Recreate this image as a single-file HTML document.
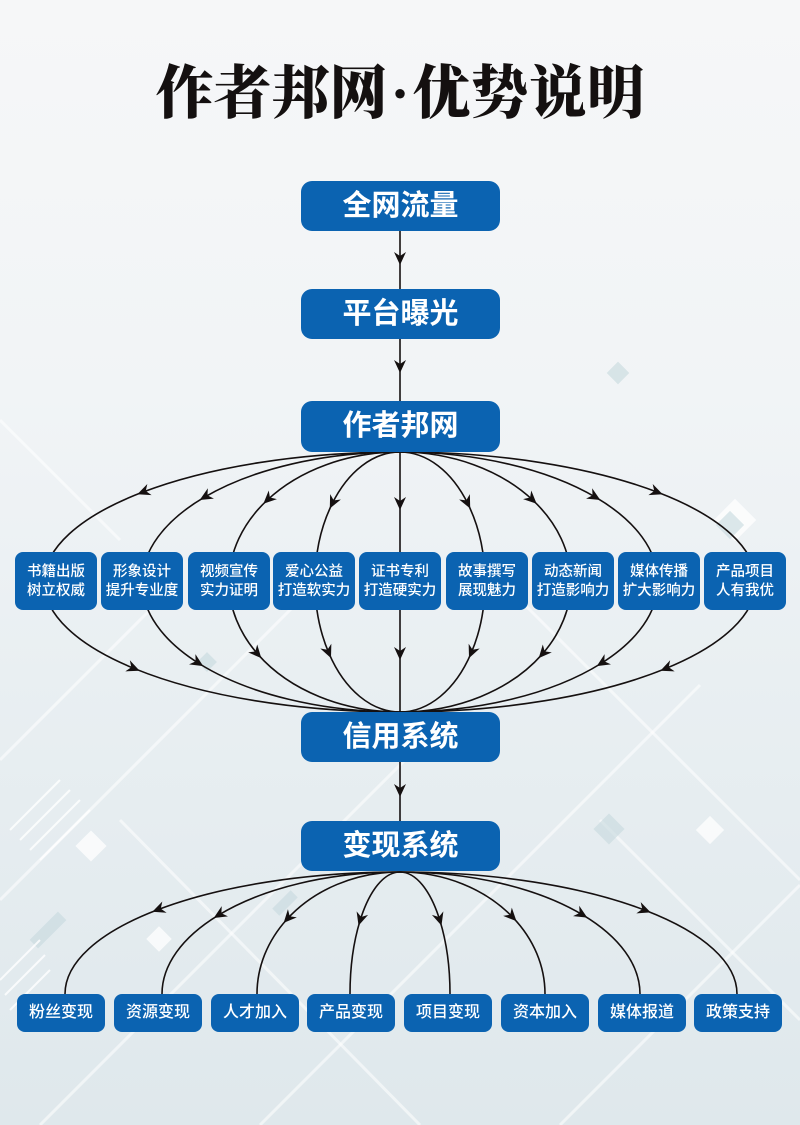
<!DOCTYPE html>
<html>
<head>
<meta charset="utf-8">
<style>
html,body{margin:0;padding:0;}
body{width:800px;height:1125px;position:relative;overflow:hidden;
background:linear-gradient(180deg,#f6f7f8 0%,#f1f4f6 35%,#e9eff2 60%,#dfe8ec 100%);
font-family:"Liberation Sans","Noto Sans CJK SC",sans-serif;}
.bg{position:absolute;left:0;top:0;}
.title{position:absolute;left:0;top:62px;width:800px;text-align:center;
font-family:"Liberation Serif","Noto Serif CJK SC",serif;font-weight:900;font-size:58px;line-height:64px;color:#141010;letter-spacing:0px;}
.title .dot{display:inline-block;width:25px;text-align:center;}
.big{position:absolute;left:301px;width:199px;height:50px;border-radius:11px;background:#0b63b1;
color:#fff;font-family:"Liberation Sans","Noto Sans CJK SC",sans-serif;font-weight:700;font-size:29px;line-height:51px;text-align:center;}
.mid{position:absolute;top:552px;width:82px;height:58px;border-radius:8px;background:#0b63b1;color:#fff;
font-family:"Liberation Sans","Noto Sans CJK SC",sans-serif;font-weight:500;font-size:14.5px;line-height:19px;text-align:center;
box-sizing:border-box;padding-top:11px;white-space:nowrap;}
.bot{position:absolute;top:994px;width:88px;height:38px;border-radius:8px;background:#0b63b1;color:#fff;
font-family:"Liberation Sans","Noto Sans CJK SC",sans-serif;font-weight:500;font-size:16px;line-height:38px;text-align:center;white-space:nowrap;}
svg.lines{position:absolute;left:0;top:0;}
</style>
</head>
<body>
<svg class="bg" width="800" height="1125" viewBox="0 0 800 1125">
  <g fill="none" stroke="#ffffff" stroke-opacity="0.55" stroke-width="3">
    <path d="M0,760 L180,580"/>
    <path d="M0,900 L330,570"/>
    <path d="M40,1125 L420,745"/>
    <path d="M260,1125 L700,685"/>
    <path d="M560,1125 L800,885"/>
    <path d="M520,600 L800,880"/>
    <path d="M600,820 L800,1020"/>
    <path d="M120,820 L420,1125"/>
    <path d="M0,420 L120,540"/>
  </g>
  <g fill="#ffffff" fill-opacity="0.75">
    <rect x="80" y="835" width="22" height="22" transform="rotate(45 91 846)"/>
    <rect x="150" y="930" width="18" height="18" transform="rotate(45 159 939)"/>
    <rect x="700" y="820" width="20" height="20" transform="rotate(45 710 830)"/>
    <rect x="720" y="505" width="30" height="30" transform="rotate(45 735 520)"/>
  </g>
  <g fill="#c7d8de" fill-opacity="0.6">
    <rect x="598" y="818" width="22" height="22" transform="rotate(45 609 829)"/>
    <rect x="610" y="365" width="16" height="16" transform="rotate(45 618 373)"/>
    <rect x="720" y="515" width="20" height="20" transform="rotate(45 730 525)"/>
    <rect x="200" y="655" width="14" height="14" transform="rotate(45 207 662)"/>
    <rect x="42" y="910" width="12" height="40" transform="rotate(45 48 930)"/>
    <rect x="280" y="890" width="10" height="26" transform="rotate(45 285 903)"/>
  </g>
  <g stroke="#ffffff" stroke-opacity="0.8" stroke-width="2">
    <path d="M10,830 L60,780 M20,840 L70,790 M30,850 L80,800 M40,860 L90,810"/>
    <path d="M0,980 L40,940 M5,995 L45,955 M10,1010 L50,970"/>
  </g>
</svg>

<div class="title">作者邦网<span class="dot">·</span>优势说明</div>

<svg class="lines" width="800" height="1125" viewBox="0 0 800 1125">
  <defs>
    <marker id="ar" markerUnits="userSpaceOnUse" viewBox="-14 -7 15 14" markerWidth="15" markerHeight="14" refX="-5" refY="0" orient="auto">
      <path d="M0,0 L-13,-6 L-9,0 L-13,6 Z" fill="#151010"/>
    </marker>
  </defs>
  <g fill="none" stroke="#151010" stroke-width="1.6">
    <path d="M400,231 L400,260" marker-end="url(#ar)"/>
    <path d="M400,260 L400,289"/>
    <path d="M400,339 L400,368" marker-end="url(#ar)"/>
    <path d="M400,368 L400,401"/>
    <path d="M400,762 L400,792" marker-end="url(#ar)"/>
    <path d="M400,792 L400,821"/>

    <path d="M400,452 L400,505" marker-end="url(#ar)"/>
    <path d="M400,505 L400,655" marker-end="url(#ar)"/>
    <path d="M400,655 L400,712"/>

    <path d="M400,452 A356,130 0 0 0 142,492.42" marker-end="url(#ar)"/>
    <path d="M142,492.42 A356,130 0 0 0 44,582 A356,130 0 0 0 135,668.81" marker-end="url(#ar)"/>
    <path d="M135,668.81 A356,130 0 0 0 400,712"/>

    <path d="M400,452 A258,130 0 0 0 204,497.46" marker-end="url(#ar)"/>
    <path d="M204,497.46 A258,130 0 0 0 142,582 A258,130 0 0 0 199,663.5" marker-end="url(#ar)"/>
    <path d="M199,663.5 A258,130 0 0 0 400,712"/>

    <path d="M400,452 A171,130 0 0 0 267,500.29" marker-end="url(#ar)"/>
    <path d="M267,500.29 A171,130 0 0 0 229,582 A171,130 0 0 0 258,654.43" marker-end="url(#ar)"/>
    <path d="M258,654.43 A171,130 0 0 0 400,712"/>

    <path d="M400,452 A85,130 0 0 0 332,504" marker-end="url(#ar)"/>
    <path d="M332,504 A85,130 0 0 0 315,582 A85,130 0 0 0 329,653.47" marker-end="url(#ar)"/>
    <path d="M329,653.47 A85,130 0 0 0 400,712"/>

    <path d="M400,452 A85,130 0 0 1 468,504" marker-end="url(#ar)"/>
    <path d="M468,504 A85,130 0 0 1 485,582 A85,130 0 0 1 471,653.47" marker-end="url(#ar)"/>
    <path d="M471,653.47 A85,130 0 0 1 400,712"/>

    <path d="M400,452 A171,130 0 0 1 533,500.29" marker-end="url(#ar)"/>
    <path d="M533,500.29 A171,130 0 0 1 571,582 A171,130 0 0 1 542,654.43" marker-end="url(#ar)"/>
    <path d="M542,654.43 A171,130 0 0 1 400,712"/>

    <path d="M400,452 A258,130 0 0 1 596,497.46" marker-end="url(#ar)"/>
    <path d="M596,497.46 A258,130 0 0 1 658,582 A258,130 0 0 1 601,663.5" marker-end="url(#ar)"/>
    <path d="M601,663.5 A258,130 0 0 1 400,712"/>

    <path d="M400,452 A356,130 0 0 1 658,492.42" marker-end="url(#ar)"/>
    <path d="M658,492.42 A356,130 0 0 1 756,582 A356,130 0 0 1 665,668.81" marker-end="url(#ar)"/>
    <path d="M665,668.81 A356,130 0 0 1 400,712"/>

    <path d="M400,872 A335,122 0 0 0 157,910.02" marker-end="url(#ar)"/>
    <path d="M157,910.02 A335,122 0 0 0 65,994"/>
    <path d="M400,872 A238,122 0 0 0 218,915.39" marker-end="url(#ar)"/>
    <path d="M218,915.39 A238,122 0 0 0 162,994"/>
    <path d="M400,872 A143,122 0 0 0 287,919.23" marker-end="url(#ar)"/>
    <path d="M287,919.23 A143,122 0 0 0 257,994"/>
    <path d="M400,872 A50,122 0 0 0 360,920.8" marker-end="url(#ar)"/>
    <path d="M360,920.8 A50,122 0 0 0 350,994"/>

    <path d="M400,872 A50,122 0 0 1 440,920.8" marker-end="url(#ar)"/>
    <path d="M440,920.8 A50,122 0 0 1 450,994"/>
    <path d="M400,872 A145,122 0 0 1 513,917.55" marker-end="url(#ar)"/>
    <path d="M513,917.55 A145,122 0 0 1 545,994"/>
    <path d="M400,872 A240,122 0 0 1 583,915.07" marker-end="url(#ar)"/>
    <path d="M583,915.07 A240,122 0 0 1 640,994"/>
    <path d="M400,872 A337,122 0 0 1 646,910.62" marker-end="url(#ar)"/>
    <path d="M646,910.62 A337,122 0 0 1 737,994"/>
  </g>
</svg>

<div class="big" style="top:181px;">全网流量</div>
<div class="big" style="top:289px;">平台曝光</div>
<div class="big" style="top:401px;height:51px;">作者邦网</div>
<div class="big" style="top:712px;">信用系统</div>
<div class="big" style="top:821px;">变现系统</div>

<div class="mid" style="left:15px;">书籍出版<br>树立权威</div>
<div class="mid" style="left:101px;">形象设计<br>提升专业度</div>
<div class="mid" style="left:188px;">视频宣传<br>实力证明</div>
<div class="mid" style="left:273px;">爱心公益<br>打造软实力</div>
<div class="mid" style="left:359px;">证书专利<br>打造硬实力</div>
<div class="mid" style="left:446px;">故事撰写<br>展现魅力</div>
<div class="mid" style="left:532px;">动态新闻<br>打造影响力</div>
<div class="mid" style="left:618px;">媒体传播<br>扩大影响力</div>
<div class="mid" style="left:704px;">产品项目<br>人有我优</div>

<div class="bot" style="left:17px;">粉丝变现</div>
<div class="bot" style="left:114px;">资源变现</div>
<div class="bot" style="left:211px;">人才加入</div>
<div class="bot" style="left:307px;">产品变现</div>
<div class="bot" style="left:404px;">项目变现</div>
<div class="bot" style="left:501px;">资本加入</div>
<div class="bot" style="left:598px;">媒体报道</div>
<div class="bot" style="left:694px;">政策支持</div>
</body>
</html>
